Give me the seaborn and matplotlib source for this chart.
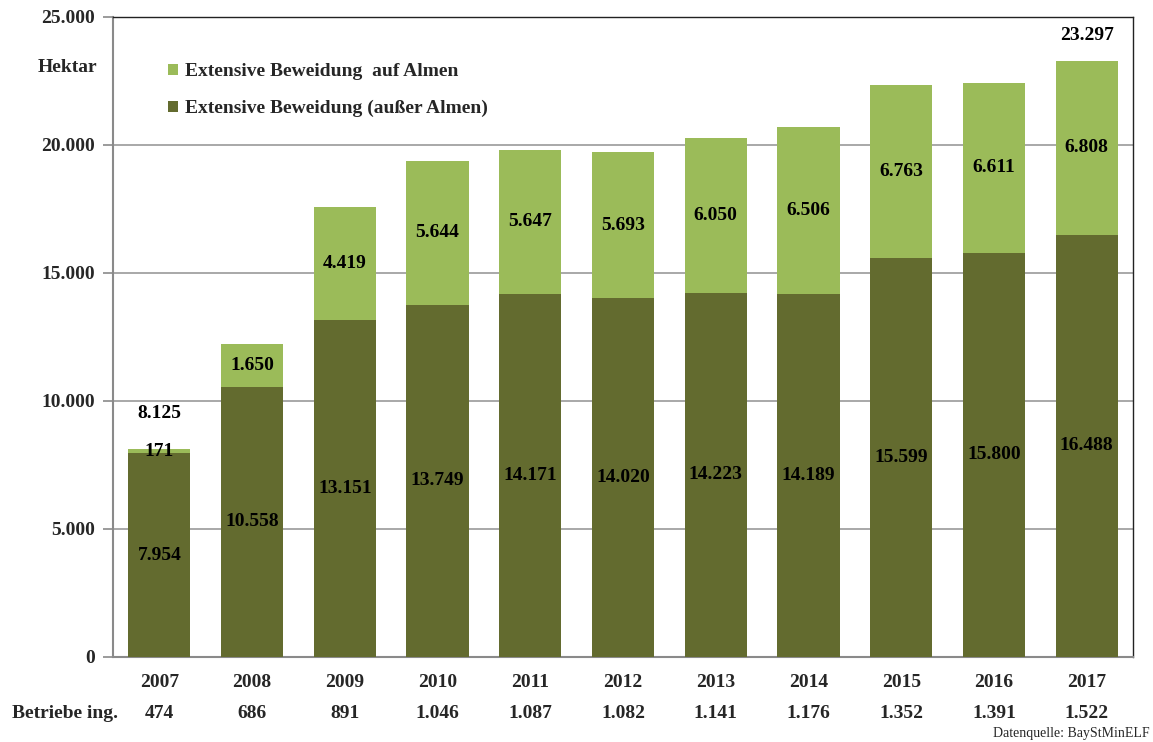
import matplotlib
matplotlib.use("Agg")
import matplotlib.pyplot as plt
import matplotlib.transforms as mtransforms
from matplotlib.patches import Patch
import seaborn as sns
import pandas as pd

years = ["2007", "2008", "2009", "2010", "2011", "2012", "2013", "2014", "2015", "2016", "2017"]
ausser_almen = [7954, 10558, 13151, 13749, 14171, 14020, 14223, 14189, 15599, 15800, 16488]
auf_almen = [171, 1650, 4419, 5644, 5647, 5693, 6050, 6506, 6763, 6611, 6808]
# published totals (only labelled for the first and last year)
gesamt_angabe = {"2007": 8125, "2017": 23297}
betriebe = ["474", "686", "891", "1.046", "1.087", "1.082", "1.141", "1.176", "1.352", "1.391", "1.522"]
yticks = [0, 5000, 10000, 15000, 20000, 25000]

light = "#9BBB59"
dark = "#636B2F"
FS = 14


def de(v):
    return f"{v:,}".replace(",", ".")


sns.set_theme(style="white")
plt.rcParams["font.family"] = ["Liberation Serif", "DejaVu Serif"]

df = pd.DataFrame({"Jahr": years, "ausser": ausser_almen, "auf": auf_almen})
df["gesamt"] = [gesamt_angabe.get(j, a + b) for j, a, b in zip(years, ausser_almen, auf_almen)]

fig = plt.figure(figsize=(11.53, 7.42), dpi=100)
ax = fig.add_axes([0.098, 0.1146, 0.8847, 0.8625])

sns.barplot(data=df, x="Jahr", y="gesamt", color=light, saturation=1, width=0.67,
            linewidth=0, ax=ax, zorder=2)
sns.barplot(data=df, x="Jahr", y="ausser", color=dark, saturation=1, width=0.67,
            linewidth=0, ax=ax, zorder=3)

ax.set_ylim(0, 25000)
ax.set_xlim(-0.5, len(years) - 0.5)
ax.set_yticks(yticks)
ax.set_yticklabels([de(v) for v in yticks], fontsize=FS, fontweight="bold")
ax.set_xticks(range(len(years)))
ax.set_xticklabels(years, fontsize=FS, fontweight="bold")
ax.set_xlabel("")
ax.set_ylabel("")
ax.yaxis.grid(True, color="#9a9a9a", linewidth=1.2, zorder=0)
ax.set_axisbelow(True)
ax.tick_params(axis="y", length=7, width=1.2, color="#8a8a8a", pad=6, left=True)
ax.tick_params(axis="x", length=0, pad=12)
for side in ["left", "bottom"]:
    ax.spines[side].set_color("#8a8a8a")
    ax.spines[side].set_linewidth(1.5)
for side in ["top", "right"]:
    ax.spines[side].set_color("#222222")
    ax.spines[side].set_linewidth(1.0)

# segment labels
for i, (a, b) in enumerate(zip(ausser_almen, auf_almen)):
    ax.text(i, a / 2, de(a), ha="center", va="center",
            fontsize=FS, fontweight="bold", color="black", zorder=5)
    ax.text(i, a + b / 2, de(b), ha="center", va="center",
            fontsize=FS, fontweight="bold", color="black", zorder=5)

# totals above the first and last bar
total_offset = {"2007": 1370, "2017": 980}
for i, j in enumerate(years):
    if j in gesamt_angabe:
        total = gesamt_angabe[j]
        ax.text(i, total + total_offset[j], de(total), ha="center", va="center",
                fontsize=FS, fontweight="bold", color="black", zorder=5)

# Betriebe row
trans = mtransforms.blended_transform_factory(ax.transData, fig.transFigure)
for i, n in enumerate(betriebe):
    ax.text(i, 1 - 713 / 742, n, transform=trans, ha="center", va="center",
            fontsize=FS, fontweight="bold")
fig.text(12 / 1153, 1 - 713 / 742, "Betriebe ing.", ha="left", va="center",
         fontsize=FS, fontweight="bold")

fig.text(97 / 1153, 1 - 67 / 742, "Hektar", ha="right", va="center",
         fontsize=FS, fontweight="bold")
fig.text(1150 / 1153, 1 - 734 / 742, "Datenquelle: BayStMinELF", ha="right", va="center",
         fontsize=10)

handles = [Patch(facecolor=light, edgecolor="none", label="Extensive Beweidung  auf Almen"),
           Patch(facecolor=dark, edgecolor="none", label="Extensive Beweidung (außer Almen)")]
ax.legend(handles=handles, loc="upper left", bbox_to_anchor=(0.037, 0.955),
          frameon=False, handlelength=0.5, handleheight=0.5, handletextpad=0.35,
          labelspacing=1.0, prop={"size": FS, "weight": "bold"})

fig.savefig("out.png", dpi=100)
